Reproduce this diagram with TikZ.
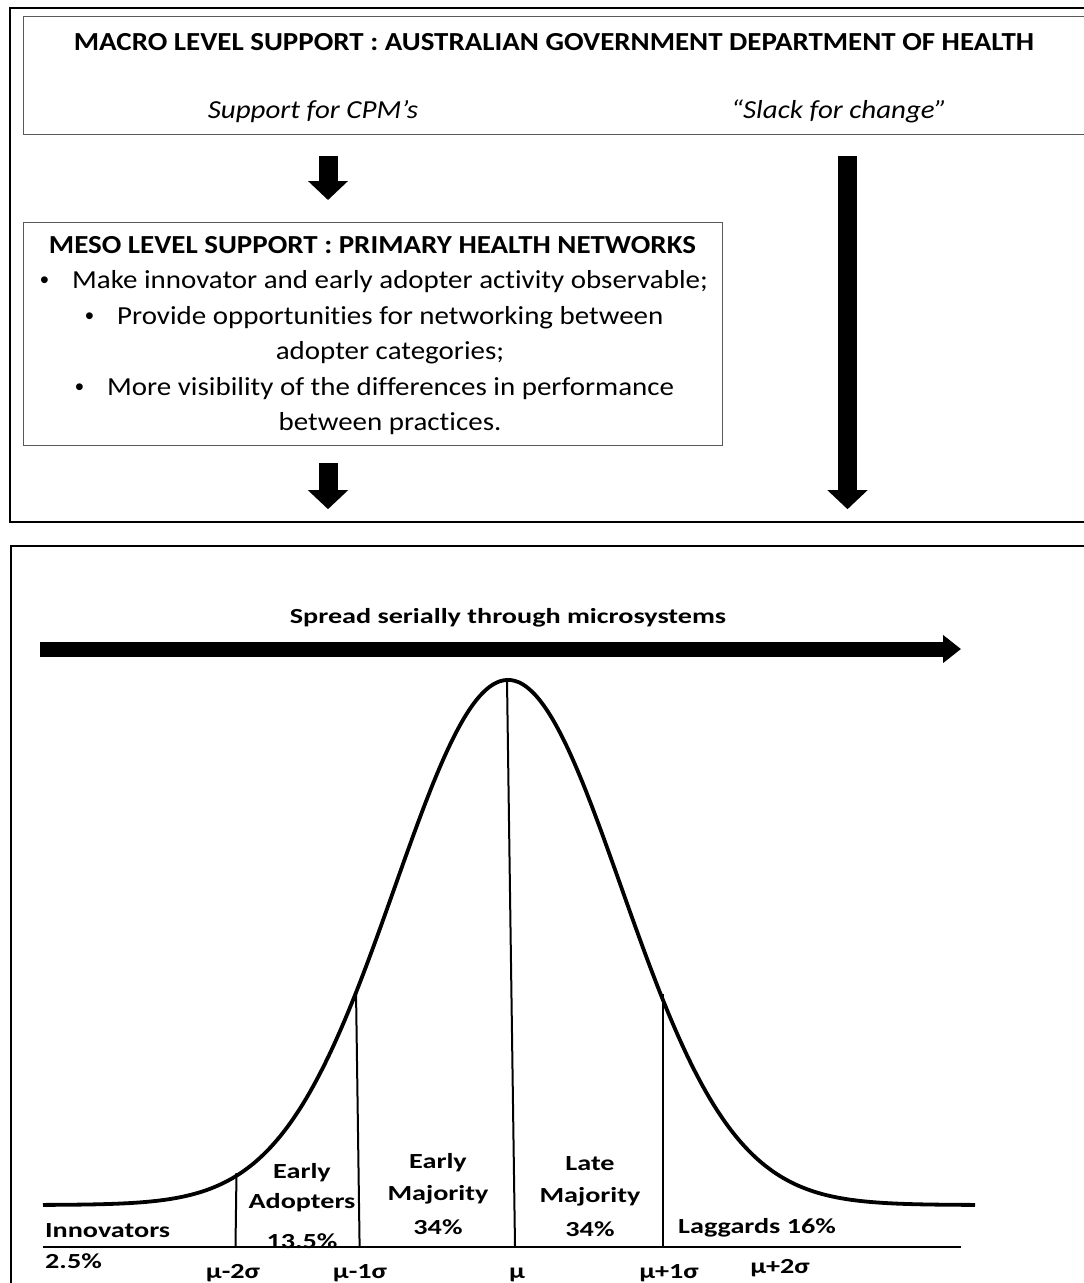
\documentclass[tikz,border=0pt]{standalone}
\usepackage{fontspec}
\setmainfont{Carlito}[Ligatures=NoCommon]
\newfontfamily\bulletfont{Liberation Sans}
\usetikzlibrary{arrows.meta,calc}
\newcommand{\chartw}[1]{\scalebox{1.31}[1]{#1}}
\newcommand{\topw}[1]{\scalebox{1.114}[1]{#1}}
\newcommand{\blt}{\makebox[32pt][l]{\bulletfont\fontsize{25}{28}\selectfont •}}
\tikzset{
  framebox/.style={draw=black, line width=2.2pt, anchor=north west, inner sep=0pt},
  levelbox/.style={draw=black!65, line width=1.3pt, anchor=north west, inner sep=0pt},
  blockarrow/.style={draw=black, line width=19pt, -{Triangle[width=39pt,length=19pt]}},
  toptitle/.style={font=\fontsize{26}{30}\selectfont\bfseries, anchor=base, inner sep=0pt},
  topital/.style={font=\fontsize{26}{30}\selectfont\itshape, anchor=base, inner sep=0pt},
  mesotext/.style={font=\fontsize{26}{30}\selectfont, anchor=base, inner sep=0pt},
  mesoleft/.style={mesotext, anchor=base west},
  charttext/.style={font=\fontsize{21.5}{26}\selectfont\bfseries, anchor=base, inner sep=0pt, align=center},
  chartleft/.style={charttext, anchor=base west},
  vline/.style={draw=black, line width=2pt},
}
\begin{document}
\begin{tikzpicture}[x=1pt,y=-1pt]
\clip (0,0) rectangle (1084,1283);
\fill[white] (0,0) rectangle (1084,1283);

% ---------- upper frame ----------
\node[framebox, minimum width=1100pt, minimum height=514pt] (outer) at (9,7) {};
\node[levelbox, minimum width=1100pt, minimum height=118pt] (macro) at (23,16) {};
\node[toptitle] (macroT) at (554,50) {\topw{MACRO LEVEL SUPPORT : AUSTRALIAN GOVERNMENT DEPARTMENT OF HEALTH}};
\node[topital] (cpm) at (313,118) {\topw{Support for CPM’s}};
\node[topital] (slack) at (839,118) {\topw{“Slack for change”}};

\node[levelbox, minimum width=699pt, minimum height=223pt] (meso) at (23,222) {};
\node[mesotext, font=\fontsize{26}{30}\selectfont\bfseries] (mesoT) at (372.5,253) {\topw{MESO LEVEL SUPPORT : PRIMARY HEALTH NETWORKS}};
\node[mesoleft] (m1) at (40,288) {\blt\topw{Make innovator and early adopter activity observable;}};
\node[mesoleft] (m2) at (85,324) {\blt\topw{Provide opportunities for networking between}};
\node[mesotext] (m3) at (390,359) {\topw{adopter categories;}};
\node[mesoleft] (m4) at (75,395) {\blt\topw{More visibility of the differences in performance}};
\node[mesotext] (m5) at (390,430) {\topw{between practices.}};

\coordinate (colA) at (328,0);
\coordinate (colB) at (847.5,0);
\draw[blockarrow, shorten <=21pt, shorten >=22pt] (macro.south -| colA) -- (meso.north -| colA);
\draw[blockarrow, shorten <=17pt, shorten >=14pt] (meso.south -| colA) -- (outer.south -| colA);
\draw[blockarrow, shorten <=21pt, shorten >=14pt] (macro.south -| colB) -- (outer.south -| colB);

% ---------- lower frame ----------
\node[framebox, minimum width=1100pt, minimum height=800pt] (lower) at (10,545) {};
\node[charttext] (spreadT) at (508,623) {\chartw{Spread serially through microsystems}};
\coordinate (spreadL) at (40,649);
\coordinate (spreadR) at (961,649);
\draw[draw=black, line width=15pt, -{Triangle[width=27pt,length=18pt]}] (spreadL) -- (spreadR);

% bell curve
\draw[line width=3.8pt, line join=round]
  plot[domain=43:975, samples=240, smooth] (\x, {1205-525*exp(-0.5*((\x-508)/113)*((\x-508)/113))});
% axis
\coordinate (axL) at (43,1247);
\coordinate (axR) at (961,1247);
\draw[line width=2.8pt] (axL) -- (axR);

% dividing lines
\coordinate (d1t) at (236.5,1173); \coordinate (d1b) at (235.5,1246);
\coordinate (d2t) at (356,990);    \coordinate (d2b) at (359.6,1246);
\coordinate (d3t) at (507,680);    \coordinate (d3b) at (515,1246);
\coordinate (d4t) at (662.5,994);  \coordinate (d4b) at (662.5,1246);
\draw[vline] (d1t) -- (d1b);
\draw[vline] (d2t) -- (d2b);
\draw[vline] (d3t) -- (d3b);
\draw[vline] (d4t) -- (d4b);

% labels
\node[chartleft] (innov) at (45,1237) {\chartw{Innovators}};
\node[chartleft] (innovp) at (45,1268) {\chartw{2.5\%}};
\node[charttext] (ea1) at (302,1178) {\chartw{Early}};
\node[charttext] (ea2) at (302,1208) {\chartw{Adopters}};
\node[charttext] (ea3) at (302,1248) {\chartw{13.5\%}};
\node[charttext] (em1) at (438,1168) {\chartw{Early}};
\node[charttext] (em2) at (438,1200) {\chartw{Majority}};
\node[charttext] (em3) at (438,1234) {\chartw{34\%}};
\node[charttext] (lm1) at (590,1170) {\chartw{Late}};
\node[charttext] (lm2) at (590,1202) {\chartw{Majority}};
\node[charttext] (lm3) at (590,1236) {\chartw{34\%}};
\node[chartleft] (lag) at (678,1233) {\chartw{Laggards 16\%}};

\node[charttext] (s1) at (233,1278) {\chartw{μ-2σ}};
\node[charttext] (s2) at (360,1278) {\chartw{μ-1σ}};
\node[charttext] (s3) at (517,1278) {\chartw{μ}};
\node[charttext] (s4) at (669,1278) {\chartw{μ+1σ}};
\node[charttext] (s5) at (780,1273) {\chartw{μ+2σ}};
\end{tikzpicture}
\end{document}
